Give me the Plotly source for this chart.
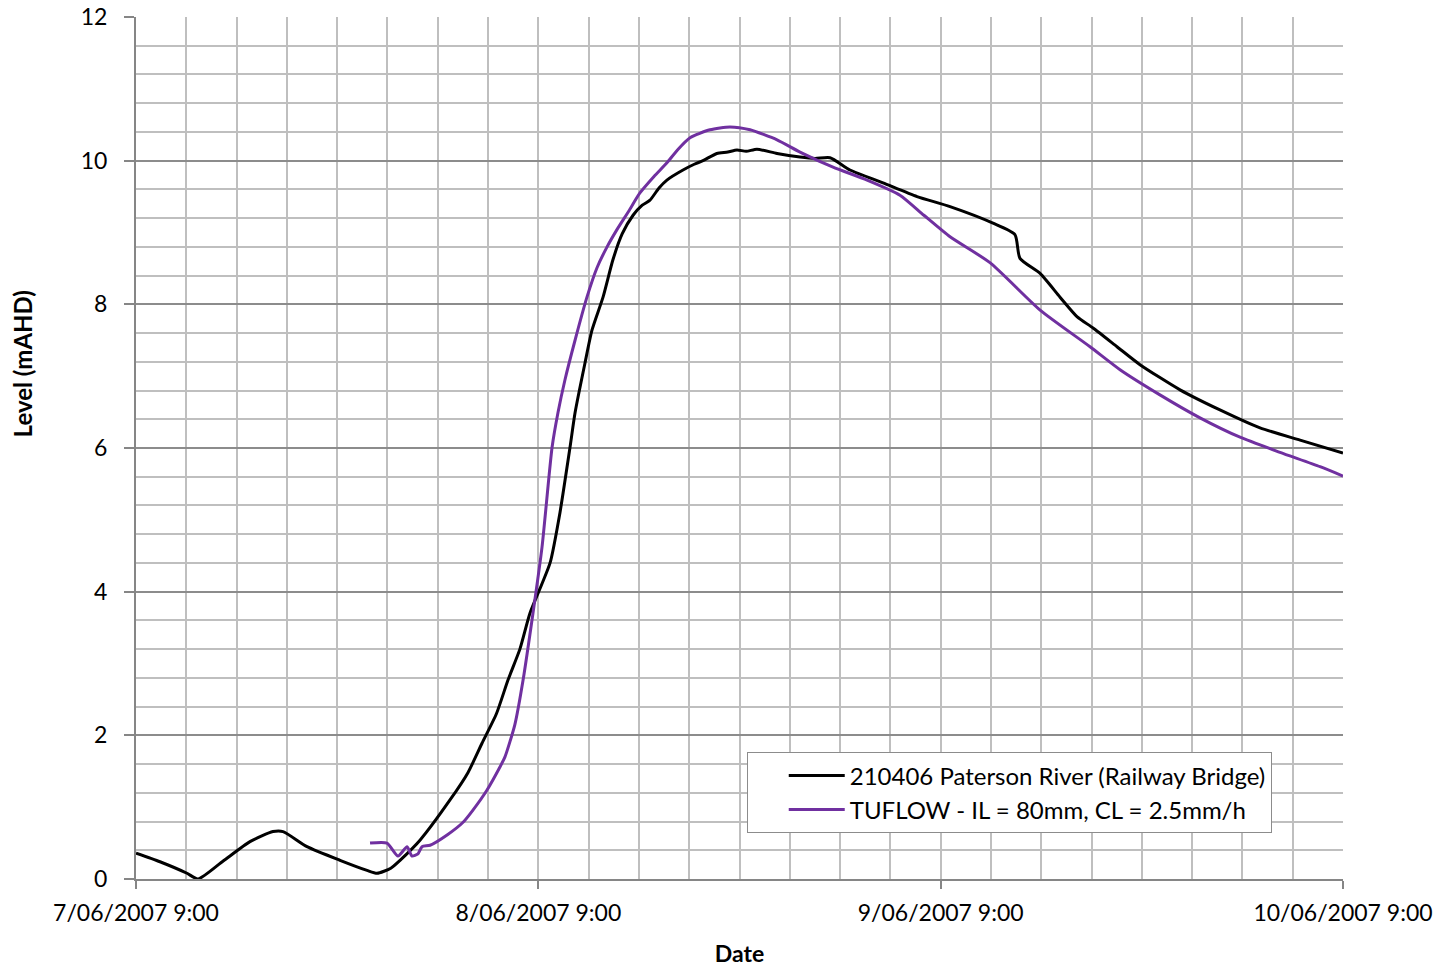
import pandas as pd
import plotly.graph_objects as go

START = "2007-06-07 09:00"

# Observed gauge: hours after start, level (mAHD)
obs_hours = [0, 1.43, 3.04, 3.70, 5.2, 6.80, 8.17, 8.77, 10.2, 12.17, 13.78, 14.38, 15.2, 15.75, 16.94,
             18.73, 19.8, 20.64, 21.5, 22.19, 22.9, 23.50, 24.2, 24.70, 25.29, 25.89, 26.19, 26.78, 27.20, 27.86,
             28.45, 29.0, 29.65, 30.2, 30.66, 31.2, 31.67, 32.63, 33.3, 33.82, 34.65, 35.3, 35.85, 36.4, 37.04, 38.24, 39.61,
             40.5, 41.40, 42.59, 44.56, 46.59, 48.56, 51.12, 52.43, 52.73, 53.93, 55.12, 56.13,
             57.09, 58.52, 59.89, 62.28, 64.66, 67.05, 69.44, 72.0]
obs_level = [0.36, 0.24, 0.08, 0.0, 0.25, 0.52, 0.66, 0.66, 0.45, 0.26, 0.12, 0.08, 0.15, 0.26, 0.54,
             1.1, 1.48, 1.89, 2.3, 2.77, 3.2, 3.7, 4.1, 4.4, 5.1, 6.01, 6.49, 7.18, 7.64, 8.1,
             8.62, 8.98, 9.24, 9.38, 9.45, 9.62, 9.73, 9.87, 9.95, 10.0, 10.1, 10.12, 10.15, 10.13, 10.16, 10.1, 10.05,
             10.03, 10.04, 9.87, 9.69, 9.5, 9.36, 9.13, 8.97, 8.64, 8.43, 8.10, 7.83,
             7.67, 7.41, 7.16, 6.81, 6.53, 6.28, 6.11, 5.93]

# TUFLOW model: hours after start, level (mAHD)
mod_hours = [13.96, 14.97, 15.63, 16.17, 16.46, 16.82, 17.06, 17.54, 18.6, 19.51, 20.10, 20.94,
             21.71, 22.01, 22.6, 23.09, 23.68, 24.22, 24.82, 25.17, 25.59, 26.19, 26.90, 27.50,
             28.1, 28.69, 29.4, 30.06, 30.9, 31.67, 32.3, 33.05, 34.24, 35.43, 36.63, 38.24, 39.61, 41.58, 43.61,
             45.57, 47.0, 48.56, 50.94, 53.93, 56.91, 58.70, 61.08, 63.47, 65.86, 68.24, 70.63, 72.0]
mod_level = [0.5, 0.5, 0.32, 0.45, 0.32, 0.35, 0.45, 0.47, 0.62, 0.79, 0.96, 1.24,
             1.56, 1.7, 2.15, 2.77, 3.7, 4.62, 6.01, 6.49, 6.95, 7.5, 8.1, 8.51,
             8.8, 9.04, 9.3, 9.55, 9.78, 9.97, 10.15, 10.32, 10.43, 10.47, 10.43, 10.29, 10.12, 9.91, 9.73,
             9.52, 9.24, 8.94, 8.58, 7.92, 7.41, 7.09, 6.74, 6.42, 6.15, 5.94, 5.74, 5.61]

series_names = ["210406 Paterson River (Railway Bridge)", "TUFLOW - IL = 80mm, CL = 2.5mm/h"]
x_title = "Date"
y_title = "Level (mAHD)"

start = pd.Timestamp(START)
obs_x = start + pd.to_timedelta(obs_hours, unit="h")
mod_x = start + pd.to_timedelta(mod_hours, unit="h")

FONT = "Lato, Open Sans, sans-serif"

fig = go.Figure()
fig.add_trace(go.Scatter(x=obs_x, y=obs_level, mode="lines", name=series_names[0],
                         line=dict(color="#000000", width=3, shape="spline", smoothing=0.6)))
fig.add_trace(go.Scatter(x=mod_x, y=mod_level, mode="lines", name=series_names[1],
                         line=dict(color="#7030A0", width=3, shape="spline", smoothing=0.6)))

fig.update_layout(
    width=1439, height=967,
    margin=dict(l=136, r=96, t=17, b=88),
    paper_bgcolor="white", plot_bgcolor="white",
    font=dict(family=FONT, size=23, color="#000000"),
    showlegend=True,
    legend=dict(x=0.506, y=0.147, xanchor="left", yanchor="top",
                bgcolor="white", bordercolor="#8c8c8c", borderwidth=1,
                font=dict(size=24), tracegroupgap=0, indentation=36, itemwidth=56),
    annotations=[dict(text="<b>" + y_title + "</b>", xref="paper", yref="paper",
                      x=-0.0944, y=0.597, xanchor="center", yanchor="middle",
                      textangle=-90, showarrow=False, font=dict(size=24))],
)

fig.update_xaxes(
    type="date", automargin=False,
    range=[start, start + pd.Timedelta(hours=72)],
    tick0=START, dtick=86400000,
    tickformat="%-d/%m/%Y %-H:%M",
    showgrid=True, gridcolor="#bfbfbf", gridwidth=1.5,
    minor=dict(dtick=10800000, tick0=START, showgrid=True, gridcolor="#bfbfbf", gridwidth=1.5),
    showline=True, linecolor="#868686", linewidth=2,
    ticks="outside", ticklen=8, tickcolor="#868686", tickwidth=2,
    ticklabelstandoff=4,
    title=dict(text="<b>" + x_title + "</b>", font=dict(size=23), standoff=22),
    zeroline=False,
)
fig.update_yaxes(
    automargin=False,
    range=[0, 12], dtick=2, tick0=0,
    showgrid=True, gridcolor="#8c8c8c", gridwidth=1.5,
    minor=dict(dtick=0.4, tick0=0, showgrid=True, gridcolor="#bfbfbf", gridwidth=1.5),
    showline=True, linecolor="#868686", linewidth=2, mirror=False,
    ticks="outside", ticklen=10, tickcolor="#868686", tickwidth=2,
    ticklabelstandoff=12,
    zeroline=False,
)

fig.write_html("out.html")
